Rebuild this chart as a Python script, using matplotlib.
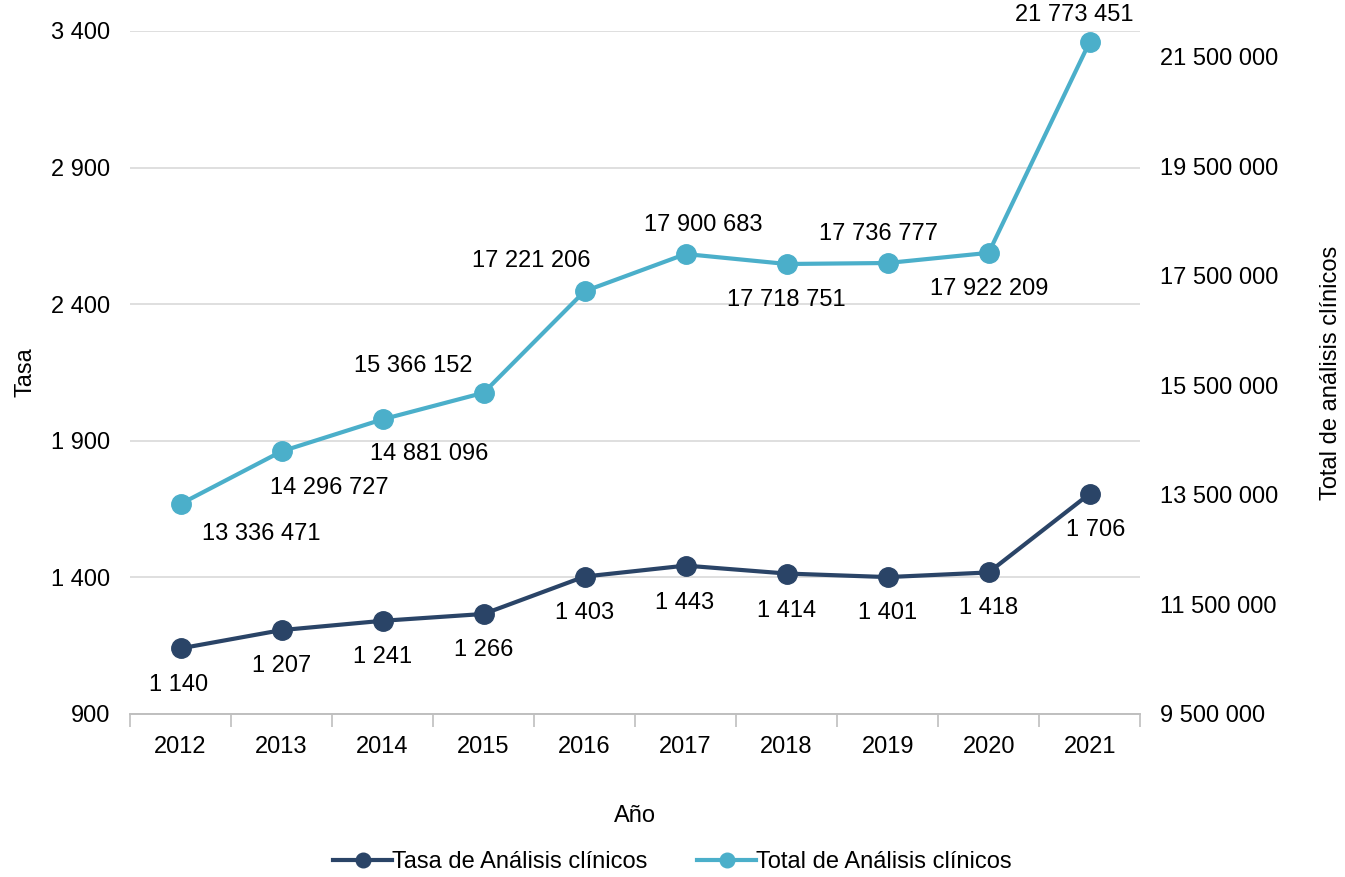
import matplotlib
matplotlib.use("Agg")
import matplotlib.pyplot as plt
from matplotlib.ticker import FuncFormatter

plt.rcParams['font.family'] = ['Liberation Sans', 'DejaVu Sans']

anios = ["2012", "2013", "2014", "2015", "2016", "2017", "2018", "2019", "2020", "2021"]
tasa = [1140, 1207, 1241, 1266, 1403, 1443, 1414, 1401, 1418, 1706]
total = [13336471, 14296727, 14881096, 15366152, 17221206,
         17900683, 17718751, 17736777, 17922209, 21773451]

# desplazamientos de etiquetas (pixeles)
off_tasa = [(-2, -37), (0, -36), (0, -36), (0, -36), (0, -36),
            (-1, -37), (0, -37), (0, -36), (0, -36), (6, -36)]
off_total = [(81, -30), (48, -37), (47, -35), (-70, 27), (-53, 30),
             (18, 29), (0, -36), (-9, 29), (1, -36), (-15, 27)]

c_tasa = "#2a4467"
c_total = "#4bafca"
fs = 17


def miles(v, pos=None):
    return f"{int(round(v)):,}".replace(",", " ")


fig = plt.figure(figsize=(13.45, 8.77), dpi=100)
ax = fig.add_axes([0.0967, 0.1859, 0.751, 0.7788])
ax2 = ax.twinx()

x = list(range(len(anios)))

ax.plot(x, tasa, color=c_tasa, lw=3, marker="o", ms=14, zorder=3,
        label="Tasa de Análisis clínicos")
ax2.plot(x, total, color=c_total, lw=3, marker="o", ms=14, zorder=3,
         label="Total de Análisis clínicos")

for i, v in enumerate(tasa):
    ax.annotate(miles(v), (x[i], v), xytext=off_tasa[i], textcoords="offset pixels",
                ha="center", va="center", fontsize=fs)
for i, v in enumerate(total):
    ax2.annotate(miles(v), (x[i], v), xytext=off_total[i], textcoords="offset pixels",
                 ha="center", va="center", fontsize=fs)

ax.set_xlim(-0.5, len(anios) - 0.5)
ax.set_ylim(900, 3400)
ax.set_yticks(range(900, 3401, 500))
ax.yaxis.set_major_formatter(FuncFormatter(miles))
ax2.set_ylim(9500000, 21975000)
ax2.set_yticks(range(9500000, 21500001, 2000000))
ax2.yaxis.set_major_formatter(FuncFormatter(miles))

ax.set_xticks(x)
ax.set_xticklabels(anios)
ax.set_xticks([i - 0.5 for i in range(len(anios) + 1)], minor=True)
ax.tick_params(axis="x", which="major", length=0, labelsize=fs, pad=16)
ax.tick_params(axis="x", which="minor", length=9, color="#bfbfbf", width=1.2)
ax.tick_params(axis="y", length=0, labelsize=fs, pad=14)
ax2.tick_params(axis="y", length=0, labelsize=fs, pad=14)

ax.grid(axis="y", color="#d9d9d9", lw=1.2, zorder=0)
for a in (ax, ax2):
    for s in ["top", "left", "right"]:
        a.spines[s].set_visible(False)
    a.spines["bottom"].set_color("#bfbfbf")
    a.spines["bottom"].set_linewidth(1.2)

ax.set_xlabel("Año", fontsize=fs, labelpad=34)
ax.set_ylabel("Tasa", fontsize=fs, labelpad=11)
ax2.set_ylabel("Total de análisis clínicos", fontsize=fs, labelpad=30)

h1, l1 = ax.get_legend_handles_labels()
h2, l2 = ax2.get_legend_handles_labels()
fig.legend(h1 + h2, l1 + l2, loc="center", bbox_to_anchor=(0.5, 0.017),
           ncol=2, frameon=False, fontsize=fs, handlelength=2.5,
           handletextpad=0.0, columnspacing=2.1, markerscale=0.75)

fig.savefig("out.png", dpi=100)
